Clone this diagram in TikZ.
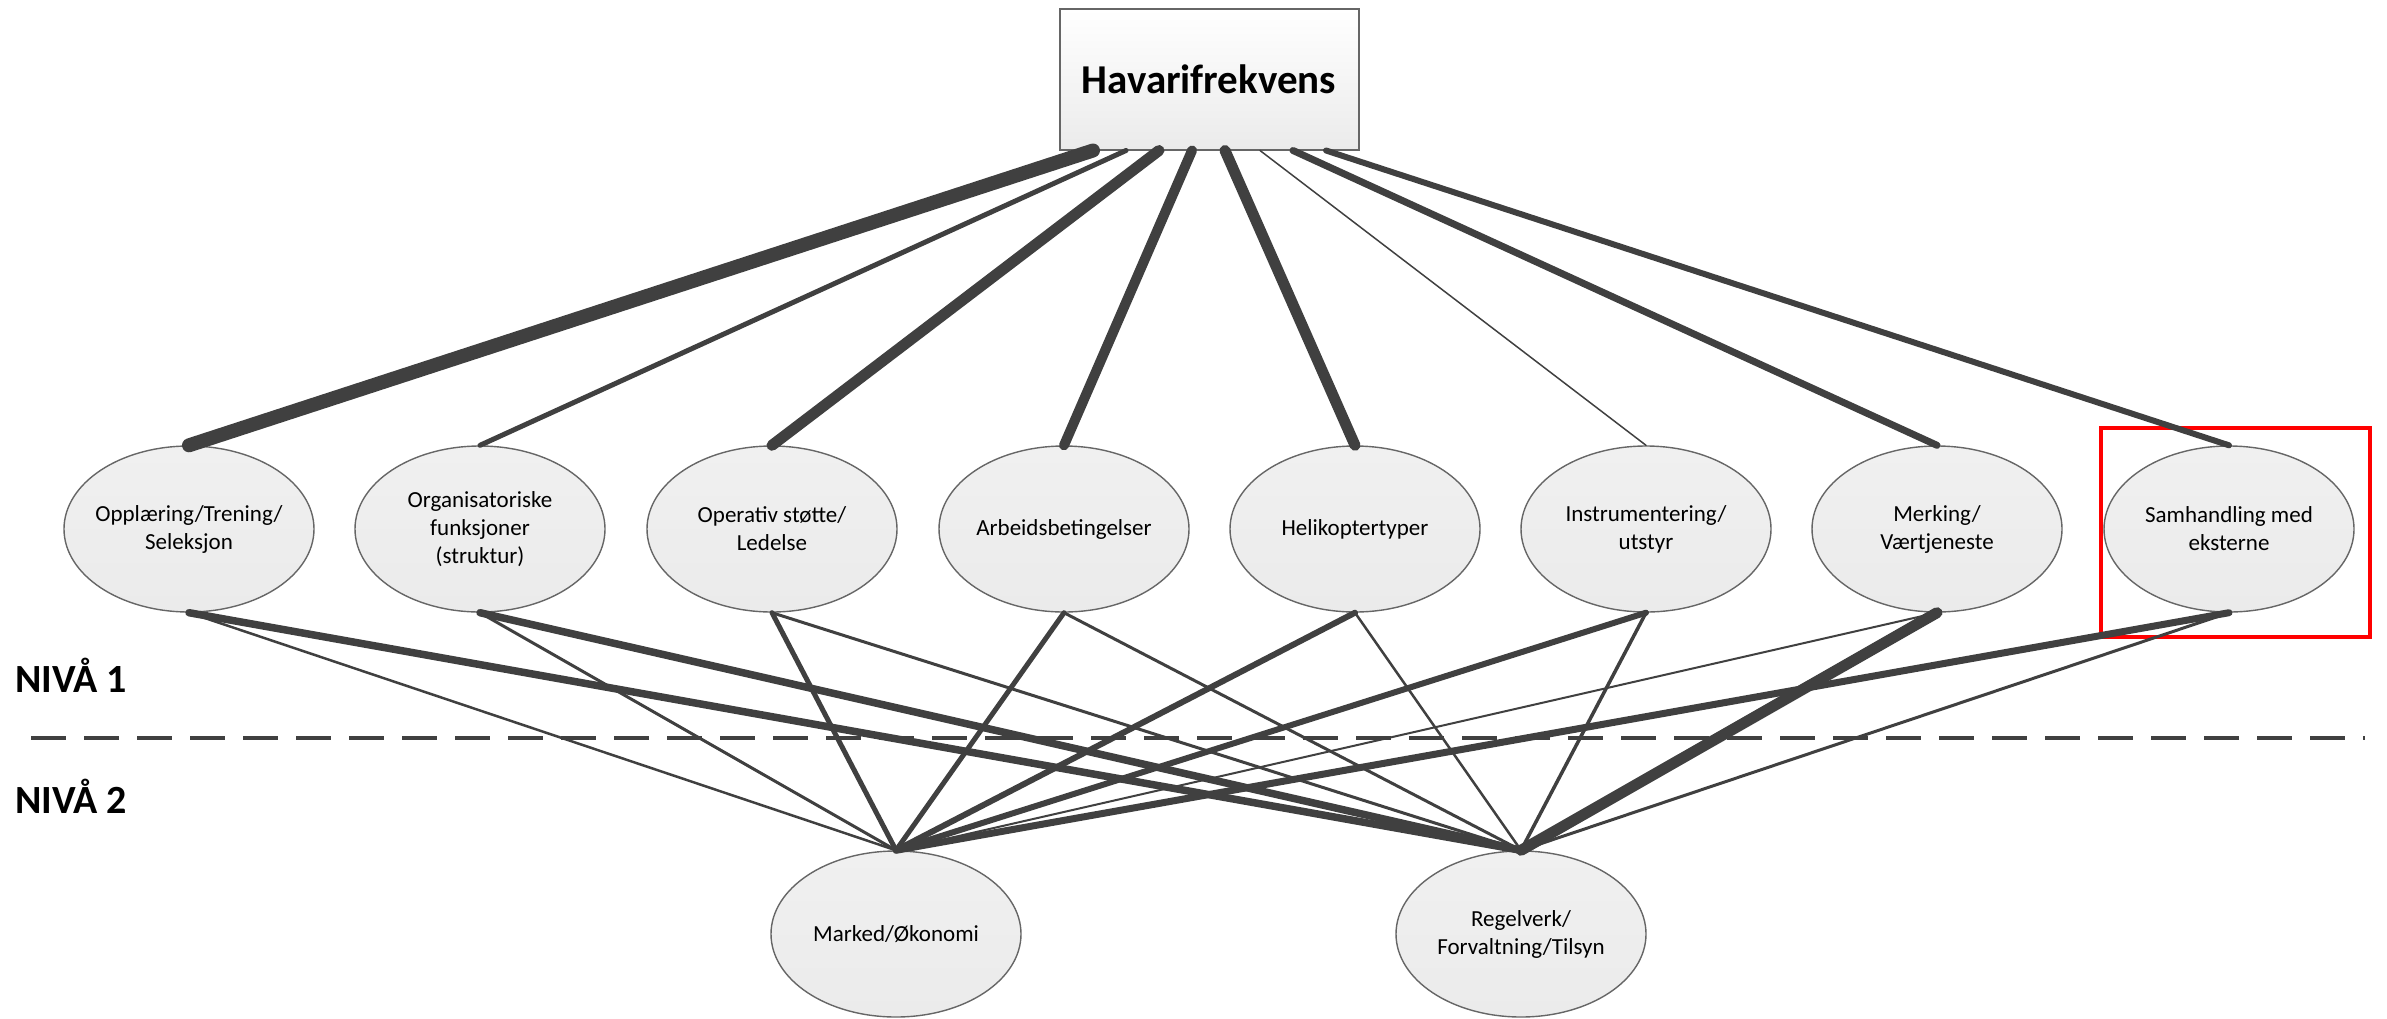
\documentclass[tikz,border=0pt]{standalone}
\usepackage{fontspec}
\setmainfont{Carlito}
\usetikzlibrary{shapes.geometric}
\definecolor{ln}{HTML}{404040}
\definecolor{bd}{HTML}{666666}
\definecolor{fb}{HTML}{EBEBEB}
\definecolor{ft}{HTML}{F0F0F0}
\begin{document}
\begin{tikzpicture}[x=1pt,y=-1pt,
  ell/.style={ellipse, draw=bd, line width=1.4pt, minimum width=250pt, minimum height=166pt,
    inner sep=0pt, top color=ft, middle color=white, bottom color=fb},
  lab/.style={align=center, inner sep=0pt, font=\fontsize{23}{28}\selectfont},
  topbox/.style={draw=bd, line width=2pt, minimum width=299pt, minimum height=141pt,
    inner sep=0pt, top color=white, bottom color=fb, font=\fontsize{41}{48}\selectfont\bfseries},
  ed/.style={draw=ln, line cap=round},
  levtext/.style={anchor=base west, inner sep=0pt, font=\fontsize{40}{46}\selectfont\bfseries},
  dashline/.style={draw=ln, line width=4.5pt, dash pattern=on 35pt off 18pt},
  hilite/.style={draw=red, line width=4pt, minimum width=269pt, minimum height=209pt, inner sep=0pt}
]
\useasboundingbox (0,0) rectangle (2387,1018);

% level labels and divider
\node[levtext] (n1) at (15,692) {NIVÅ 1};
\node[levtext] (n2) at (15,813) {NIVÅ 2};
\coordinate (dl) at (31,738);
\coordinate (dr) at (2365,738);
\draw[dashline] (dl) -- (dr);

% top node
\node[topbox] (box) at (1209,79) {Havarifrekvens};

% level 1
\node[ell, label={[lab]center:Opplæring/Trening/\\Seleksjon}] (e1) at (189,529) {};
\node[ell, label={[lab]center:Organisatoriske\\funksjoner\\(struktur)}] (e2) at (480,529) {};
\node[ell, label={[lab]center:Operativ støtte/\\Ledelse}] (e3) at (772,529) {};
\node[ell, label={[lab]center:Arbeidsbetingelser}] (e4) at (1064,529) {};
\node[ell, label={[lab]center:Helikoptertyper}] (e5) at (1355,529) {};
\node[ell, label={[lab]center:Instrumentering/\\utstyr}] (e6) at (1646,529) {};
\node[ell, label={[lab]center:Merking/\\Værtjeneste}] (e7) at (1937,529) {};
\node[ell, label={[lab]center:Samhandling med\\eksterne}] (e8) at (2229,529) {};

% level 2
\node[ell, label={[lab]center:Marked/Økonomi}] (m) at (896,934) {};
\node[ell, label={[lab]center:Regelverk/\\Forvaltning/Tilsyn}] (r) at (1521,934) {};

% highlight
\node[hilite] (hl) at (2235.5,532.5) {};

% top edges
\draw[ed, line width=14pt] ([xshift=-116pt]box.south) -- (e1.north);
\draw[ed, line width=5pt]  ([xshift=-83pt]box.south) -- (e2.north);
\draw[ed, line width=11pt] ([xshift=-50pt]box.south) -- (e3.north);
\draw[ed, line width=10pt] ([xshift=-17pt]box.south) -- (e4.north);
\draw[ed, line width=11pt] ([xshift=16pt]box.south) -- (e5.north);
\draw[ed, line width=1.5pt] ([xshift=51pt]box.south) -- (e6.north);
\draw[ed, line width=7pt]  ([xshift=84pt]box.south) -- (e7.north);
\draw[ed, line width=6pt]  ([xshift=117pt]box.south) -- (e8.north);

% bottom edges
\draw[ed, line width=2.5pt] (e1.south) -- (m.north);
\draw[ed, line width=7.5pt] (e1.south) -- (r.north);
\draw[ed, line width=3pt]   (e2.south) -- (m.north);
\draw[ed, line width=7.5pt] (e2.south) -- (r.north);
\draw[ed, line width=5pt]   (e3.south) -- (m.north);
\draw[ed, line width=3pt]   (e3.south) -- (r.north);
\draw[ed, line width=5pt]   (e4.south) -- (m.north);
\draw[ed, line width=3pt]   (e4.south) -- (r.north);
\draw[ed, line width=6pt]   (e5.south) -- (m.north);
\draw[ed, line width=2.5pt] (e5.south) -- (r.north);
\draw[ed, line width=6pt]   (e6.south) -- (m.north);
\draw[ed, line width=3.5pt] (e6.south) -- (r.north);
\draw[ed, line width=2pt]   (e7.south) -- (m.north);
\draw[ed, line width=11pt]  (e7.south) -- (r.north);
\draw[ed, line width=7pt]   (e8.south) -- (m.north);
\draw[ed, line width=3pt]   (e8.south) -- (r.north);
\end{tikzpicture}
\end{document}
